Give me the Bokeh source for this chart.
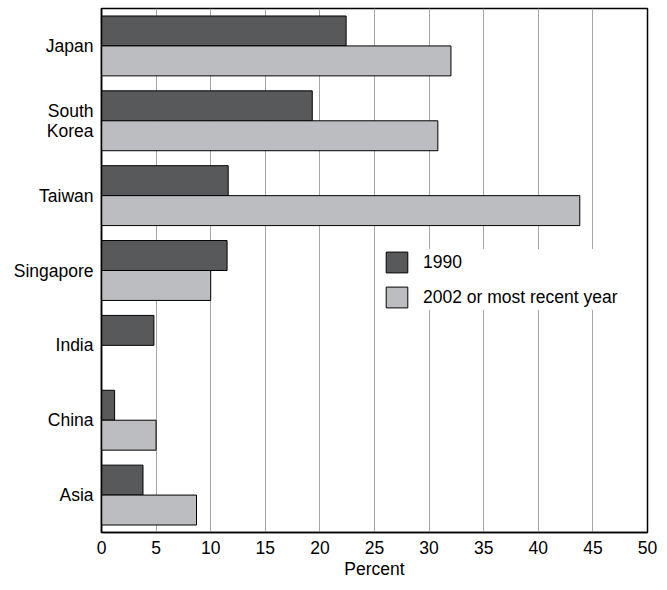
import numpy as np
from bokeh.plotting import figure
from bokeh.models import (ColumnDataSource, Range1d, FixedTicker,
                          Legend, LegendItem)
from bokeh.embed import file_html
from bokeh.resources import INLINE

categories = ["Japan", "South Korea", "Taiwan", "Singapore", "India", "China", "Asia"]
v1990 = [22.4, 19.3, 11.6, 11.5, 4.8, 1.2, 3.8]
v2002 = [32.0, 30.8, 43.8, 10.0, 0.0, 5.0, 8.7]
series_names = ["1990", "2002 or most recent year"]
x_ticks = [0, 5, 10, 15, 20, 25, 30, 35, 40, 45, 50]

FONT = "Liberation Sans"
FS = "17.5px"
DARK = "#58595b"
LIGHT = "#bcbdc0"

n = len(categories)
centers = n - 1 - np.arange(n) + 0.5          # first category on top
src = ColumnDataSource(dict(cat=categories, a=v1990, b=v2002,
                            ya=centers + 0.2, yb=centers - 0.2))

p = figure(y_range=Range1d(0, n), x_range=Range1d(0, 50),
           width=659, height=582,
           min_border_left=101, min_border_right=12, min_border_top=8, min_border_bottom=50,
           output_backend="svg", toolbar_location=None)

r1 = p.hbar(y="ya", left=0, right="a", height=0.4,
            source=src, fill_color=DARK, line_color="black", line_width=1)
r2 = p.hbar(y="yb", left=0, right="b", height=0.4,
            source=src, fill_color=LIGHT, line_color="black", line_width=1)

legend = Legend(items=[LegendItem(label=series_names[0], renderers=[r1]),
                       LegendItem(label=series_names[1], renderers=[r2])],
                location=(282, 222), padding=6, margin=0, spacing=9,
                glyph_width=27, glyph_height=26, label_height=26, label_standoff=13,
                border_line_color=None, background_fill_color="white", background_fill_alpha=1,
                label_text_font=FONT, label_text_font_size=FS, label_text_color="black")
p.add_layout(legend, "center")

p.outline_line_color = "black"
p.outline_line_width = 1.5
p.outline_line_alpha = 1

p.ygrid.grid_line_color = None
p.xgrid.grid_line_color = "#a6a6a6"
p.xgrid.grid_line_width = 1
p.xgrid.ticker = FixedTicker(ticks=x_ticks)

# y ticks: one per category, the two-word label split onto two ticks
ytick_vals, ylabels = [], {}
for c, yc in zip(categories, centers):
    words = c.split(" ")
    if len(words) == 1:
        ytick_vals.append(float(yc))
        ylabels[float(yc)] = c
    else:
        for w, dy in zip(words, (0.13, -0.13)):
            t = round(float(yc) + dy, 2)
            ytick_vals.append(t)
            ylabels[t] = w
p.yaxis.ticker = FixedTicker(ticks=ytick_vals)
p.yaxis.major_label_overrides = ylabels

p.xaxis.ticker = FixedTicker(ticks=x_ticks)
p.xaxis.axis_label = "Percent"
p.xaxis.axis_label_text_font_style = "normal"
p.xaxis.axis_label_standoff = 2
for ax in (p.xaxis[0], p.yaxis[0]):
    ax.axis_line_color = "black"
    ax.axis_line_width = 1.5
    ax.major_tick_line_color = None
    ax.minor_tick_line_color = None
    ax.major_tick_out = 0
    ax.major_tick_in = 0
    ax.major_label_text_font = FONT
    ax.major_label_text_font_size = FS
    ax.major_label_text_color = "black"
    ax.axis_label_text_font = FONT
    ax.axis_label_text_font_size = FS
    ax.axis_label_text_color = "black"
p.xaxis.major_label_standoff = 8
p.yaxis.major_label_standoff = 8

p.background_fill_color = "white"
p.border_fill_color = "white"

open("out.html", "w").write(file_html(p, INLINE))
